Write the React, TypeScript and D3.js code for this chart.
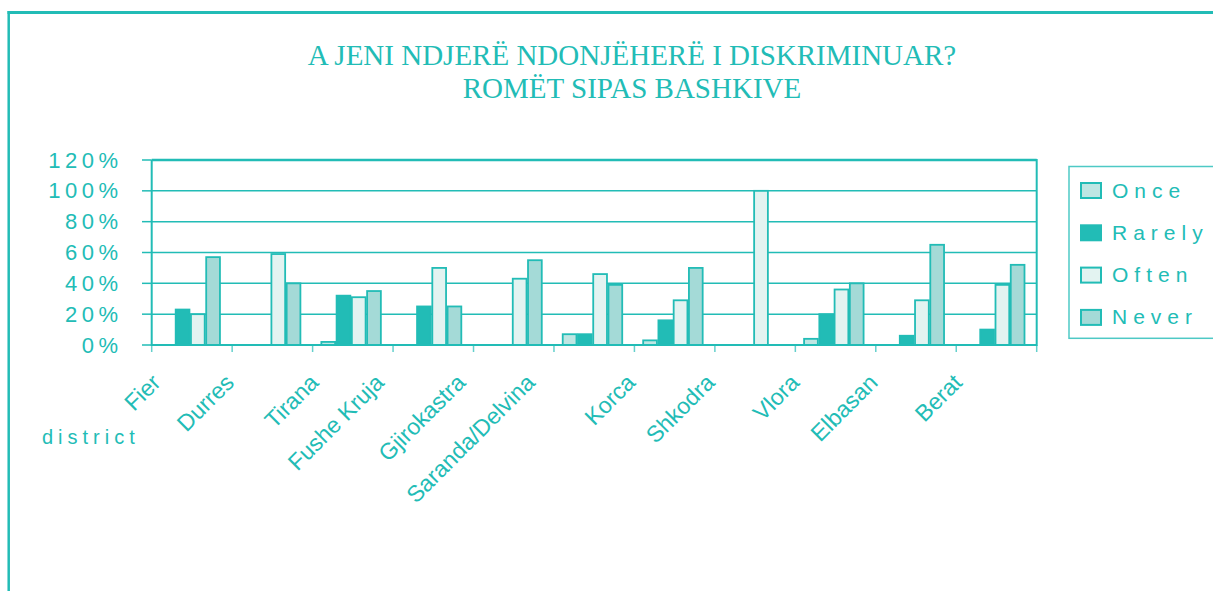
import React from "react";
import * as d3 from "d3";

const categories = ["Fier", "Durres", "Tirana", "Fushe Kruja", "Gjirokastra", "Saranda/Delvina", "Korca", "Shkodra", "Vlora", "Elbasan", "Berat"];
const seriesNames = ["Once", "Rarely", "Often", "Never"];
const once = [0, 0, 2, 0, 0, 7, 3, 0, 4, 0, 0];
const rarely = [23, 0, 32, 25, 0, 7, 16, 0, 20, 6, 10];
const often = [20, 59, 31, 50, 43, 46, 29, 100, 36, 29, 39];
const never = [57, 40, 35, 25, 55, 39, 50, 0, 40, 65, 52];
const yTicks = [0, 20, 40, 60, 80, 100, 120];
const titleLines = ["A JENI NDJERË NDONJËHERË I DISKRIMINUAR?", "ROMËT SIPAS BASHKIVE"];
const axisTitle = "district";

const TEAL = "#22BCB6";
const fills: Record<string, string> = {
  Once: "#BFE6E3",
  Rarely: "#22BCB6",
  Often: "#E3F3F1",
  Never: "#A4DAD7",
};

// layout: label anchor shift from group centre (the original labels are displaced)
const labelShift = [-30, -37, -33, -48, -47, -58, -38, -39, -35, -37, -33];

export default function App() {
  const W = 1213, H = 591;
  const left = 151.7, right = 1036.7, top = 160, bottom = 345;
  const values: Record<string, number[]> = { Once: once, Rarely: rarely, Often: often, Never: never };

  const x0 = d3.scaleBand<string>().domain(categories).range([left, right]).padding(0);
  const x1 = d3.scaleBand<string>().domain(seriesNames).range([8, 69]).padding(0);
  const y = d3.scaleLinear().domain([0, 120]).range([bottom, top]);

  const sans = "'Liberation Sans', Arial, sans-serif";

  return (
    <svg width={W} height={H} style={{ position: "absolute", left: 0, top: 0, background: "#fff" }}>
      {/* outer frame */}
      <line x1={8.7} x2={8.7} y1={11} y2={H} stroke={TEAL} strokeWidth={2.5} />
      <line x1={7.5} x2={W} y1={12.5} y2={12.5} stroke={TEAL} strokeWidth={3} />

      {/* title */}
      {titleLines.map((t, i) => (
        <text key={t} x={632} y={65 + i * 32.7} textAnchor="middle" fontFamily="'Liberation Serif', 'Times New Roman', serif" fontSize={29} fill={TEAL}>
          {t}
        </text>
      ))}

      {/* gridlines */}
      {yTicks.map((t) => (
        <g key={t}>
          <line x1={left} x2={right} y1={y(t)} y2={y(t)} stroke={TEAL} strokeWidth={t === 120 ? 2.5 : 1.5} />
          <line x1={142} x2={left} y1={y(t)} y2={y(t)} stroke={TEAL} strokeWidth={1.5} />
          <text x={122.5} y={y(t) + 7.5} textAnchor="end" fontFamily={sans} fontSize={22} letterSpacing={4.5} fill={TEAL}>
            {t + "%"}
          </text>
        </g>
      ))}

      {/* bottom ticks */}
      {categories.concat(["__end"]).map((c, i) => {
        const xx = i < categories.length ? (x0(c) as number) : right;
        return <line key={"bt" + i} x1={xx} x2={xx} y1={bottom} y2={352} stroke={TEAL} strokeOpacity={0.7} strokeWidth={1.5} />;
      })}

      {/* bars */}
      {categories.map((c, ci) => (
        <g key={c} transform={`translate(${x0(c)},0)`}>
          {seriesNames.map((s) => {
            const v = values[s][ci];
            if (!v) return null;
            return (
              <rect
                key={s}
                x={(x1(s) as number) + 0.75}
                y={y(v)}
                width={x1.bandwidth() - 1.5}
                height={bottom - y(v)}
                fill={fills[s]}
                stroke={TEAL}
                strokeWidth={1.8}
              />
            );
          })}
        </g>
      ))}

      {/* axes frame */}
      <line x1={left} x2={left} y1={top} y2={bottom + 1} stroke={TEAL} strokeWidth={2} />
      <line x1={right} x2={right} y1={top - 1} y2={bottom + 1} stroke={TEAL} strokeWidth={2} />
      <line x1={left} x2={right} y1={bottom} y2={bottom} stroke={TEAL} strokeWidth={2} />

      {/* category labels */}
      {categories.map((c, i) => {
        const cx = (x0(c) as number) + x0.bandwidth() / 2 + labelShift[i];
        const cy = 384;
        return (
          <text key={"l" + c} x={cx} y={cy} textAnchor="end" transform={`rotate(-45 ${cx} ${cy})`} fontFamily={sans} fontSize={23} fill={TEAL}>
            {c}
          </text>
        );
      })}
      <text x={42} y={444} fontFamily={sans} fontSize={20} letterSpacing={5} fill={TEAL}>
        {axisTitle}
      </text>

      {/* legend */}
      <rect x={1069} y={166.5} width={170} height={171.8} fill="none" stroke={TEAL} strokeOpacity={0.8} strokeWidth={1.5} />
      {seriesNames.map((s, i) => (
        <g key={"lg" + s} transform={`translate(1080,${182 + i * 42.3})`}>
          <rect x={1} y={1} width={20} height={15} fill={fills[s]} stroke={TEAL} strokeWidth={2} />
          <text x={32} y={15.5} fontFamily={sans} fontSize={21} letterSpacing={6} fill={TEAL}>
            {s}
          </text>
        </g>
      ))}
    </svg>
  );
}
